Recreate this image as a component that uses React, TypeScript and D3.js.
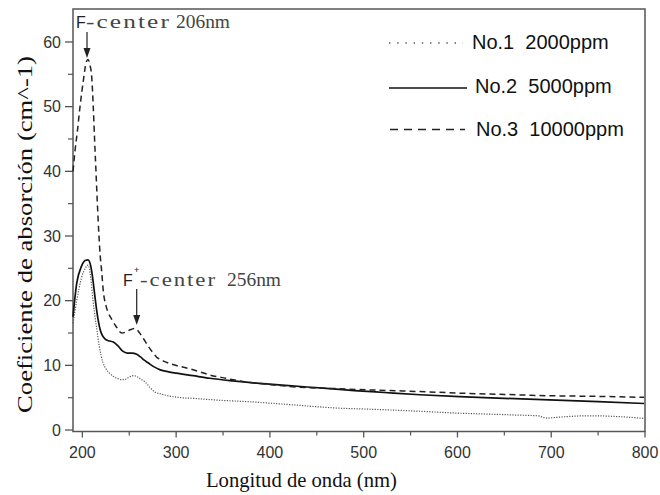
import React from "react";
import * as d3 from "d3";

const xTicks = [200, 300, 400, 500, 600, 700, 800];
const xMinor = [250, 350, 450, 550, 650, 750];
const yTicks = [0, 10, 20, 30, 40, 50, 60];
const yMinor = [5, 15, 25, 35, 45, 55];

const s1Name = "No.1  2000ppm";
const s1X = [190, 194, 199, 203, 206, 209, 211, 213.5, 215.5, 218, 220, 222, 225, 229, 233, 237, 241, 245, 250, 255, 259, 263, 267, 272, 277, 283, 293, 305, 318, 332, 346, 360, 375, 400, 424, 450, 478, 500, 528, 560, 602, 635, 666, 685, 696, 705, 720, 740, 760, 780, 799];
const s1Y = [16.5, 20, 23.5, 25, 25.5, 23.5, 20.5, 17.5, 15.5, 13, 11.5, 10.4, 9.5, 8.8, 8.3, 8.0, 7.8, 7.8, 8.2, 8.4, 8.2, 7.8, 7.4, 6.6, 5.9, 5.6, 5.25, 5.0, 4.9, 4.75, 4.6, 4.5, 4.4, 4.15, 3.9, 3.6, 3.35, 3.25, 3.1, 2.9, 2.6, 2.45, 2.3, 2.2, 1.85, 1.95, 2.1, 2.2, 2.15, 2.0, 1.8];

const s2Name = "No.2  5000ppm";
const s2X = [190, 194, 199, 203, 206, 209, 211, 213.5, 216.5, 219, 221, 224, 228, 233, 238, 243, 248, 253, 258, 262, 266, 270, 276, 283, 292, 300, 318, 336, 360, 389, 420, 460, 490, 522, 560, 602, 650, 698, 750, 799];
const s2Y = [17.5, 22.7, 25.3, 26.2, 26.3, 25.3, 23.5, 20.5, 17.3, 15.5, 14.7, 14.1, 13.8, 13.6, 13.0, 12.2, 11.9, 11.9, 11.7, 11.3, 10.8, 10.4, 9.8, 9.3, 9.0, 8.8, 8.4, 8.0, 7.6, 7.2, 6.85, 6.45, 6.1, 5.8, 5.45, 5.15, 4.9, 4.65, 4.4, 4.1];

const s3Name = "No.3  10000ppm";
const s3X = [190, 192, 194.5, 197.5, 201, 204, 206, 208, 210, 211.6, 213, 214.5, 216, 217.7, 219, 220.6, 222.3, 225, 228, 231, 236, 242, 247, 251, 256, 259, 262.5, 267, 271.4, 275, 279, 286, 293, 302, 311, 323, 336, 353, 371, 395, 424, 470, 528, 560, 602, 650, 698, 750, 799];
const s3Y = [40, 43, 46, 50, 54, 56.8, 57.3, 56.5, 54.5, 50, 45, 40, 35, 30, 27, 24.5, 21.5, 19.3, 18, 17.2, 16, 15, 15.2, 15.5, 15.7, 15.4, 14.7, 13.7, 12.7, 12, 11.3, 10.7, 10.3, 9.9, 9.6, 9.1, 8.5, 8.0, 7.5, 7.1, 6.7, 6.4, 6.1, 5.95, 5.7, 5.5, 5.3, 5.2, 5.05];

const xTitle = "Longitud de onda (nm)";
const yTitle = "Coeficiente de absorción (cm^-1)";

const L = 73, R = 645, T = 9, B = 431.5;

export default function App() {
  const x = d3.scaleLinear().domain([190, 800]).range([L, R]);
  const y = d3.scaleLinear().domain([-0.23, 65.1]).range([B, T]);
  const mk = (xs: number[], ys: number[]) =>
    d3
      .line<number>()
      .x((_, i) => x(xs[i]))
      .y((v) => y(v))
      .curve(d3.curveMonotoneX)(ys) || "";

  const sans = "'Liberation Sans', Arial, sans-serif";
  const serif = "'Liberation Serif', 'Times New Roman', serif";
  const axisCol = "#555";

  const arrow = (ax: number, y0: number, y1: number) => (
    <g>
      <line x1={ax} x2={ax} y1={y0} y2={y1 - 8} stroke="#222" strokeWidth={1.2} />
      <path d={`M${ax - 3.5},${y1 - 10} L${ax + 3.5},${y1 - 10} L${ax},${y1} Z`} fill="#222" />
    </g>
  );

  return (
    <svg
      width={660}
      height={495}
      style={{ position: "absolute", left: 0, top: 0, background: "#fff" }}
    >
      <rect x={0} y={0} width={660} height={495} fill="#fff" />
      {/* frame */}
      <rect x={L} y={T} width={R - L} height={B - T} fill="none" stroke={axisCol} strokeWidth={1.5} />
      {/* y ticks */}
      {yTicks.map((t) => (
        <g key={"yt" + t}>
          <line x1={L - 8} x2={L} y1={y(t)} y2={y(t)} stroke={axisCol} strokeWidth={1.3} />
          <text x={L - 12} y={y(t)} dy="0.35em" textAnchor="end" fontFamily={sans} fontSize={16} fill="#333">
            {t}
          </text>
        </g>
      ))}
      {yMinor.map((t) => (
        <line key={"ym" + t} x1={L - 5} x2={L} y1={y(t)} y2={y(t)} stroke={axisCol} strokeWidth={1.2} />
      ))}
      {/* x ticks */}
      {xTicks.map((t) => (
        <g key={"xt" + t}>
          <line x1={x(t)} x2={x(t)} y1={B} y2={B + 6} stroke={axisCol} strokeWidth={1.3} />
          <text x={x(t)} y={B + 26} textAnchor="middle" fontFamily={sans} fontSize={16} fill="#333">
            {t}
          </text>
        </g>
      ))}
      {xMinor.map((t) => (
        <line key={"xm" + t} x1={x(t)} x2={x(t)} y1={B} y2={B + 4} stroke={axisCol} strokeWidth={1.2} />
      ))}
      {/* titles */}
      <text x={206} y={487} fontFamily={serif} fontSize={21} fill="#111" textLength={191} lengthAdjust="spacingAndGlyphs">
        {xTitle}
      </text>
      <text
        transform="translate(32,413) rotate(-90)"
        x={0}
        y={0}
        fontFamily={serif}
        fontSize={22}
        fill="#111"
        textLength={357}
        lengthAdjust="spacingAndGlyphs"
      >
        {yTitle}
      </text>
      {/* series */}
      <path d={mk(s1X, s1Y)} fill="none" stroke="#555" strokeWidth={1.2} strokeDasharray="1.2,1.4" />
      <path d={mk(s2X, s2Y)} fill="none" stroke="#111" strokeWidth={1.7} />
      <path d={mk(s3X, s3Y)} fill="none" stroke="#222" strokeWidth={1.5} strokeDasharray="6,4" />
      {/* legend */}
      <line x1={389} x2={463} y1={43} y2={43} stroke="#555" strokeWidth={1.3} strokeDasharray="1.4,6.8" />
      <text x={472} y={49} fontFamily={sans} fontSize={20} fill="#111" style={{ whiteSpace: "pre" }}>
        {s1Name}
      </text>
      <line x1={389} x2={467} y1={88} y2={88} stroke="#111" strokeWidth={1.7} />
      <text x={475} y={93} fontFamily={sans} fontSize={20} fill="#111" style={{ whiteSpace: "pre" }}>
        {s2Name}
      </text>
      <line x1={390} x2={465} y1={129.5} y2={129.5} stroke="#222" strokeWidth={1.5} strokeDasharray="8,6" />
      <text x={476} y={136} fontFamily={sans} fontSize={20} fill="#111" style={{ whiteSpace: "pre" }}>
        {s3Name}
      </text>
      {/* annotations */}
      <text x={76} y={28} fontFamily={sans} fontSize={16} fill="#222">F</text>
      <text x={86} y={28} fontFamily={serif} fontSize={18} fill="#444" textLength={85} lengthAdjust="spacingAndGlyphs" letterSpacing={1.5}>-center</text>
      <text x={176} y={28} fontFamily={serif} fontSize={18} fill="#444" textLength={54} lengthAdjust="spacingAndGlyphs">206nm</text>
      {arrow(87, 32, 58)}
      <text x={123} y={286} fontFamily={sans} fontSize={16} fill="#222">F</text>
      <text x={134} y={273} fontFamily={sans} fontSize={9} fill="#222">+</text>
      <text x={140} y={286} fontFamily={serif} fontSize={18} fill="#444" textLength={77} lengthAdjust="spacingAndGlyphs" letterSpacing={1.5}>-center</text>
      <text x={227} y={286} fontFamily={serif} fontSize={18} fill="#444" textLength={54} lengthAdjust="spacingAndGlyphs">256nm</text>
      {arrow(136.7, 289, 325)}
    </svg>
  );
}
